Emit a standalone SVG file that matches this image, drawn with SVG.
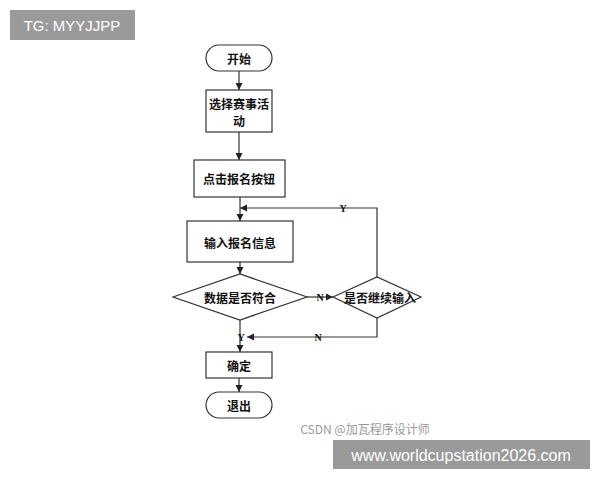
<svg xmlns="http://www.w3.org/2000/svg" width="600" height="480" viewBox="0 0 600 480">
<defs><marker id="a" viewBox="0 0 10 10" refX="10" refY="5" markerWidth="6" markerHeight="6" orient="auto"><path d="M0,0L10,5L0,10z" fill="#222"/></marker></defs>
<style>
.s{fill:#fff;stroke:#333;stroke-width:1.2}
.t{font-family:"Noto Sans CJK SC",sans-serif;font-size:12px;font-weight:bold;fill:#111;text-anchor:middle;dominant-baseline:central}
.l{fill:none;stroke:#333;stroke-width:1.2}
.k{font-family:"Liberation Serif",serif;font-size:10px;font-weight:bold;fill:#111;text-anchor:middle;dominant-baseline:central}
</style>
<rect width="600" height="480" fill="#fff"/>
<rect x="10" y="10" width="125" height="30" fill="#9a9a9a"/>
<text x="72" y="25" font-family="Liberation Sans,sans-serif" font-size="15" fill="#fff" text-anchor="middle" dominant-baseline="central">TG: MYYJJPP</text>
<g id="start"><rect class="s" x="206" y="45" width="66" height="26" rx="13"/><text class="t" x="239" y="58">开始</text></g>
<g id="select"><rect class="s" x="206" y="90" width="66" height="42"/><text class="t" x="239" y="103">选择赛事活</text><text class="t" x="239" y="120">动</text></g>
<g id="click"><rect class="s" x="194" y="160" width="91" height="37"/><text class="t" x="239" y="178">点击报名按钮</text></g>
<g id="input"><rect class="s" x="187" y="221" width="106" height="41"/><text class="t" x="240" y="242">输入报名信息</text></g>
<g id="check"><polygon class="s" points="173,297 240,274 307,297 240,320"/><text class="t" x="240" y="297">数据是否符合</text></g>
<g id="cont"><polygon class="s" points="333,297 377,277 421,297 377,318"/><text class="t" x="380" y="297">是否继续输入</text></g>
<g id="ok"><rect class="s" x="206" y="352" width="66" height="26"/><text class="t" x="239" y="365">确定</text></g>
<g id="exit"><rect class="s" x="206" y="392" width="66" height="26" rx="13"/><text class="t" x="239" y="405">退出</text></g>
<g id="edges">
<path class="l" d="M239,71V90" marker-end="url(#a)"/>
<path class="l" d="M239,132V160" marker-end="url(#a)"/>
<path class="l" d="M240,197V221" marker-end="url(#a)"/>
<path class="l" d="M240,262V274" marker-end="url(#a)"/>
<path class="l" d="M307,297H333" marker-end="url(#a)"/>
<path class="l" d="M377,277V208H240" marker-end="url(#a)"/>
<path class="l" d="M377,318V337H247" marker-end="url(#a)"/>
<path class="l" d="M240,320V352" marker-end="url(#a)"/>
<path class="l" d="M239,378V392" marker-end="url(#a)"/>
<text class="k" x="320" y="297">N</text>
<text class="k" x="343" y="208">Y</text>
<text class="k" x="318" y="337">N</text>
<text class="k" x="241" y="337">Y</text>
</g>
<text x="365" y="428" font-family="Noto Sans CJK SC,sans-serif" font-size="12" fill="#999" text-anchor="middle" dominant-baseline="central">CSDN @加瓦程序设计师</text>
<rect x="333" y="440" width="257" height="29" fill="#9a9a9a"/>
<text x="461" y="455" font-family="Liberation Sans,sans-serif" font-size="16" fill="#fff" text-anchor="middle" dominant-baseline="central">www.worldcupstation2026.com</text>
</svg>
